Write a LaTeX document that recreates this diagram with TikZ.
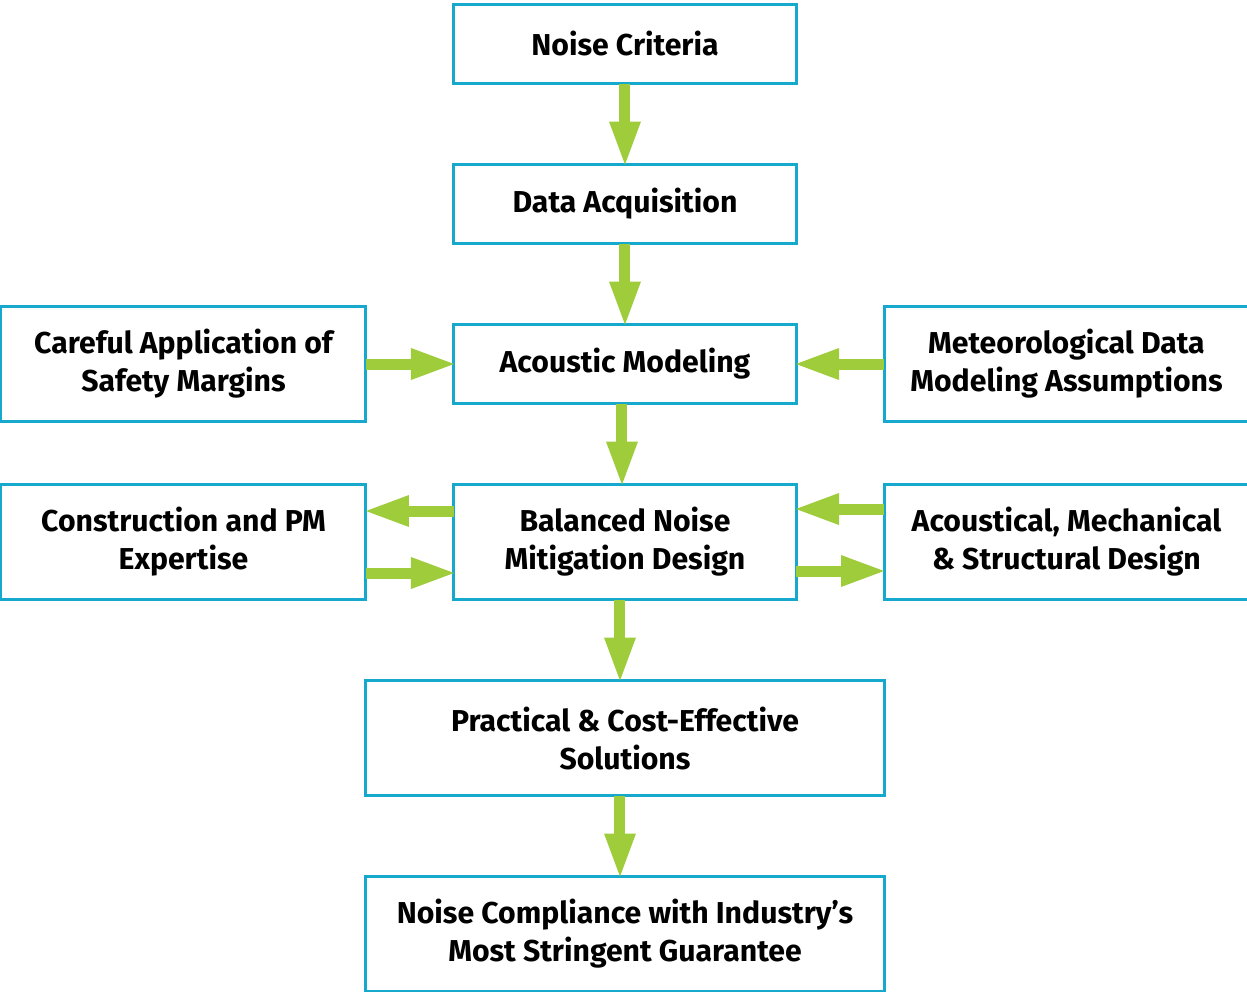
\documentclass[tikz,border=0pt]{standalone}
\usepackage{fontspec}
\setmainfont{Fira Sans}
\usetikzlibrary{positioning,arrows.meta}
\definecolor{boxblue}{RGB}{22,168,205}
\definecolor{arrgreen}{RGB}{158,204,59}
\tikzset{
  frame/.style={
    rectangle, draw=boxblue, line width=1.5pt,
    minimum width=171pt, minimum height=39.5pt,
    align=center, outer sep=0pt, inner sep=0pt,
  },
  tall/.style={frame, minimum height=57.5pt},
  side/.style={tall, minimum width=182.5pt},
  wide/.style={tall, minimum width=259pt},
  line/.style={
    draw=arrgreen, line width=5.5pt,
    -{Triangle[length=21.5pt,width=16pt,line width=0pt]},
  }
}
\begin{document}
\begin{tikzpicture}[font=\fontsize{15.1}{19}\selectfont\bfseries,node distance=40.5pt and 44pt]
\useasboundingbox (-312.5pt,22pt) rectangle (311pt,-473.5pt);
\node [frame] (crit) {Noise Criteria};
\node [frame, below=of crit] (data) {Data Acquisition};
\node [frame, below=of data] (model) {Acoustic Modeling};
\node [side, left=of model] (safe) {Careful Application of\\Safety Margins};
\node [side, right=of model] (met) {Meteorological Data\\Modeling Assumptions};
\node [tall, below=of model] (bal) {Balanced Noise\\Mitigation Design};
\node [side, left=of bal] (cons) {Construction and PM\\Expertise};
\node [side, right=of bal] (amsd) {Acoustical, Mechanical\\\& Structural Design};
\node [wide, below=of bal] (sol) {Practical \& Cost-Effective\\Solutions};
\node [wide, below=of sol] (comp) {Noise Compliance with Industry’s\\Most Stringent Guarantee};
\path [line] (crit) -- (data);
\path [line] (data) -- (model);
\path [line] (safe) -- (model);
\path [line] (met) -- (model);
\path [line] ([xshift=-1.5pt]model.south) -- ([xshift=-1.5pt]bal.north);
\path [line] ([yshift=15.5pt]bal.west) -- ([yshift=15.5pt]cons.east);
\path [line] ([yshift=-15.5pt]cons.east) -- ([yshift=-15.5pt]bal.west);
\path [line] ([yshift=16.5pt]amsd.west) -- ([yshift=16.5pt]bal.east);
\path [line] ([yshift=-14.5pt]bal.east) -- ([yshift=-14.5pt]amsd.west);
\path [line] ([xshift=-2.5pt]bal.south) -- ([xshift=-2.5pt]sol.north);
\path [line] ([xshift=-2.5pt]sol.south) -- ([xshift=-2.5pt]comp.north);
\end{tikzpicture}
\end{document}
